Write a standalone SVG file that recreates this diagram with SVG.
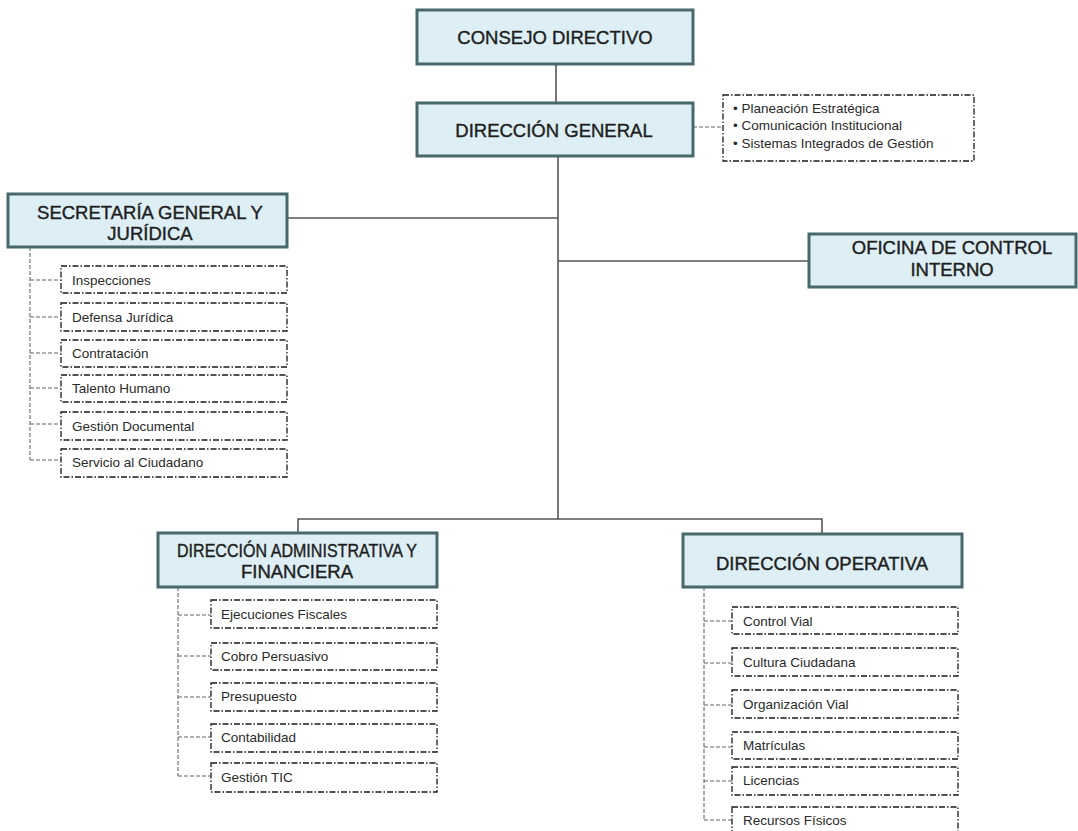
<svg xmlns="http://www.w3.org/2000/svg" width="1078" height="831" viewBox="0 0 1078 831">
<style>
.main{fill:#ddeff5;stroke:#48696c;stroke-width:3}
.mt{font-family:"Liberation Sans",Arial,sans-serif;font-size:18.5px;fill:#1e1e1e;stroke:#1e1e1e;stroke-width:0.4;text-anchor:middle}
.sub{fill:#ffffff;stroke:#1a1a1a;stroke-width:1.3;stroke-dasharray:6 2 1.5 2}
.st{font-family:"Liberation Sans",Arial,sans-serif;font-size:13.5px;fill:#2a2a2a}
.bt{font-family:"Liberation Sans",Arial,sans-serif;font-size:13.5px;fill:#2a2a2a}
.solid{stroke:#555;stroke-width:1.6;fill:none}
.dash{stroke:#666;stroke-width:1.1;fill:none;stroke-dasharray:4 2}
</style>
<rect width="1078" height="831" fill="#ffffff"/>
<g id="connectors">
<path class="solid" d="M556 64V103"/>
<path class="solid" d="M558 156V519"/>
<path class="solid" d="M287 218H558"/>
<path class="solid" d="M558 261H809"/>
<path class="solid" d="M298 533V519H822V534"/>
<path class="dash" d="M693 127H723"/>
<path class="dash" d="M30 247V460M30 280H61M30 317H61M30 353H61M30 388H61M30 424H61M30 460H61"/>
<path class="dash" d="M178 587V776M178 615H211M178 656H211M178 697H211M178 737H211M178 776H211"/>
<path class="dash" d="M704 587V820M704 621H732M704 663H732M704 705H732M704 747H732M704 781H732M704 820H732"/>
</g>
<g id="consejo"><rect class="main" x="417" y="10" width="276" height="54"/><text class="mt" x="555" y="44">CONSEJO DIRECTIVO</text></g>
<g id="direccion-general"><rect class="main" x="417" y="103" width="276" height="53"/><text class="mt" x="554" y="137">DIRECCIÓN GENERAL</text></g>
<g id="staff"><rect class="sub" x="723" y="95" width="251" height="66"/>
<text class="bt"><tspan x="733" y="113">• Planeación Estratégica</tspan><tspan x="733" y="130">• Comunicación Institucional</tspan><tspan x="733" y="148">• Sistemas Integrados de Gestión</tspan></text></g>
<g id="secretaria"><rect class="main" x="8" y="194" width="279" height="53"/><text class="mt"><tspan x="150" y="219">SECRETARÍA GENERAL Y</tspan><tspan x="150" y="240">JURÍDICA</tspan></text></g>
<g id="oficina"><rect class="main" x="809" y="234" width="267" height="53"/><text class="mt"><tspan x="952" y="254">OFICINA DE CONTROL</tspan><tspan x="952" y="276">INTERNO</tspan></text></g>
<g id="sec-subs">
<g id="inspecciones"><rect class="sub" x="61" y="266" width="226" height="27"/><text class="st" x="72" y="285">Inspecciones</text></g>
<g id="defensa"><rect class="sub" x="61" y="303" width="226" height="28"/><text class="st" x="72" y="322">Defensa Jurídica</text></g>
<g id="contratacion"><rect class="sub" x="61" y="340" width="226" height="27"/><text class="st" x="72" y="358">Contratación</text></g>
<g id="talento"><rect class="sub" x="61" y="375" width="226" height="27"/><text class="st" x="72" y="393">Talento Humano</text></g>
<g id="gestion-doc"><rect class="sub" x="61" y="412" width="226" height="28"/><text class="st" x="72" y="431">Gestión Documental</text></g>
<g id="servicio"><rect class="sub" x="61" y="449" width="226" height="28"/><text class="st" x="72" y="467">Servicio al Ciudadano</text></g>
</g>
<g id="admin"><rect class="main" x="158" y="533" width="279" height="54"/><text class="mt"><tspan x="297" y="557" textLength="240" lengthAdjust="spacingAndGlyphs">DIRECCIÓN ADMINISTRATIVA Y</tspan><tspan x="297" y="578">FINANCIERA</tspan></text></g>
<g id="admin-subs">
<g id="ejecuciones"><rect class="sub" x="211" y="600" width="226" height="28"/><text class="st" x="221" y="619">Ejecuciones Fiscales</text></g>
<g id="cobro"><rect class="sub" x="211" y="643" width="226" height="27"/><text class="st" x="221" y="661">Cobro Persuasivo</text></g>
<g id="presupuesto"><rect class="sub" x="211" y="683" width="226" height="28"/><text class="st" x="221" y="701">Presupuesto</text></g>
<g id="contabilidad"><rect class="sub" x="211" y="724" width="226" height="28"/><text class="st" x="221" y="742">Contabilidad</text></g>
<g id="gestion-tic"><rect class="sub" x="211" y="763" width="226" height="29"/><text class="st" x="221" y="782">Gestión TIC</text></g>
</g>
<g id="operativa"><rect class="main" x="683" y="534" width="279" height="53"/><text class="mt" x="822" y="570">DIRECCIÓN OPERATIVA</text></g>
<g id="op-subs">
<g id="control-vial"><rect class="sub" x="732" y="607" width="226" height="27"/><text class="st" x="743" y="626">Control Vial</text></g>
<g id="cultura"><rect class="sub" x="732" y="648" width="226" height="28"/><text class="st" x="743" y="667">Cultura Ciudadana</text></g>
<g id="organizacion"><rect class="sub" x="732" y="690" width="226" height="28"/><text class="st" x="743" y="709">Organización Vial</text></g>
<g id="matriculas"><rect class="sub" x="732" y="732" width="226" height="27"/><text class="st" x="743" y="750">Matrículas</text></g>
<g id="licencias"><rect class="sub" x="732" y="767" width="226" height="28"/><text class="st" x="743" y="785">Licencias</text></g>
<g id="recursos"><rect class="sub" x="732" y="807" width="226" height="30"/><text class="st" x="743" y="825">Recursos Físicos</text></g>
</g>
</svg>
